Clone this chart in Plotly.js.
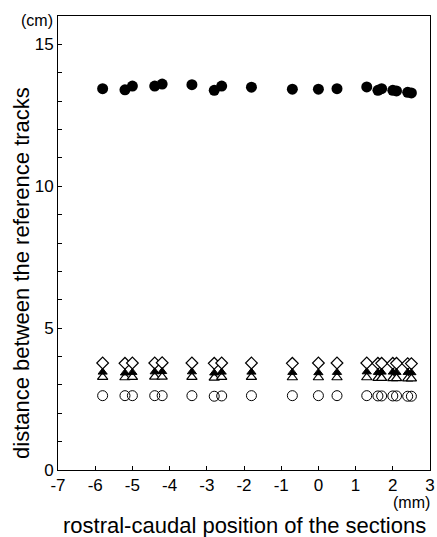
<!DOCTYPE html>
<html>
<head>
<meta charset="utf-8">
<script src="https://cdn.plot.ly/plotly-3.0.1.min.js"></script>
<style>html,body{margin:0;padding:0;background:#fff;}#chart{width:437px;height:537px;}</style>
</head>
<body>
<div id="chart"></div>
<script>
// rostral-caudal position of the sections (mm)
const positions = [-5.8, -5.2, -5.0, -4.4, -4.2, -3.4, -2.8, -2.6, -1.8, -0.7, 0.0, 0.5, 1.3, 1.6, 1.7, 2.0, 2.1, 2.4, 2.5];
// distance between the reference tracks (cm)
const filledCircles = [13.44, 13.40, 13.53, 13.53, 13.60, 13.58, 13.38, 13.53, 13.49, 13.42, 13.42, 13.44, 13.50, 13.38, 13.44, 13.38, 13.36, 13.31, 13.29];
const openDiamonds  = [3.77, 3.76, 3.77, 3.77, 3.78, 3.77, 3.76, 3.77, 3.77, 3.76, 3.77, 3.77, 3.77, 3.76, 3.76, 3.76, 3.76, 3.75, 3.75];
const filledTriangles = [3.45, 3.42, 3.44, 3.46, 3.47, 3.46, 3.42, 3.45, 3.45, 3.44, 3.43, 3.44, 3.46, 3.44, 3.45, 3.45, 3.44, 3.44, 3.43];
const openTriangles = [3.27, 3.26, 3.27, 3.28, 3.28, 3.27, 3.25, 3.27, 3.27, 3.26, 3.26, 3.26, 3.26, 3.24, 3.24, 3.23, 3.23, 3.22, 3.22];
const openCircles   = [2.62, 2.62, 2.62, 2.62, 2.62, 2.62, 2.60, 2.61, 2.62, 2.62, 2.62, 2.62, 2.62, 2.61, 2.61, 2.61, 2.61, 2.60, 2.60];

const xTicks = [-7, -6, -5, -4, -3, -2, -1, 0, 1, 2, 3];
const yTicks = [0, 5, 10, 15];

const FONT = 'Liberation Sans, Arial, Helvetica, sans-serif';

const traces = [
  {x: positions, y: openDiamonds, mode: 'markers', type: 'scatter',
   marker: {symbol: 'diamond', size: 9, color: '#fff', line: {color: '#000', width: 1.2}}},
  {x: positions, y: openTriangles, mode: 'markers', type: 'scatter',
   marker: {symbol: 'triangle-up', size: 9, color: '#fff', line: {color: '#000', width: 1.2}}},
  {x: positions, y: filledTriangles, mode: 'markers', type: 'scatter',
   marker: {symbol: 'triangle-up', size: 8, color: '#000', line: {color: '#000', width: 1}}},
  {x: positions, y: openCircles, mode: 'markers', type: 'scatter',
   marker: {symbol: 'circle-open', size: 10, color: '#000', line: {color: '#000', width: 1}}},
  {x: positions, y: filledCircles, mode: 'markers', type: 'scatter',
   marker: {symbol: 'circle', size: 11, color: '#000', line: {color: '#000', width: 0}}}
];

const layout = {
  width: 437, height: 537,
  margin: {l: 58, r: 7, t: 16, b: 67},
  paper_bgcolor: '#fff', plot_bgcolor: '#fff',
  showlegend: false,
  font: {family: FONT, size: 17, color: '#000'},
  xaxis: {
    range: [-7, 3], tickvals: xTicks, ticktext: xTicks.map(String),
    ticks: 'inside', ticklen: 4, tickwidth: 1, tickcolor: '#000',
    showline: true, linecolor: '#000', linewidth: 1, mirror: true,
    showgrid: false, zeroline: false, fixedrange: true,
    tickfont: {family: FONT, size: 17, color: '#000'}
  },
  yaxis: {
    range: [0, 16], tickvals: yTicks, ticktext: yTicks.map(String),
    ticks: 'inside', ticklen: 4, tickwidth: 1, tickcolor: '#000',
    minor: {dtick: 1, ticks: 'inside', ticklen: 4, tickwidth: 1, tickcolor: '#000', showgrid: false},
    showline: true, linecolor: '#000', linewidth: 1, mirror: true,
    showgrid: false, zeroline: false, fixedrange: true,
    tickfont: {family: FONT, size: 17, color: '#000'}
  },
  annotations: [
    {text: '(cm)', xref: 'paper', yref: 'paper', x: 0, y: 1, xanchor: 'right', yanchor: 'middle',
     xshift: -3, yshift: -4, showarrow: false, font: {family: FONT, size: 16, color: '#000'}},
    {text: '(mm)', xref: 'paper', yref: 'paper', x: 1, y: 0, xanchor: 'right', yanchor: 'top',
     xshift: 2, yshift: -22, showarrow: false, font: {family: FONT, size: 16, color: '#000'}},
    {text: 'rostral-caudal position of the sections', xref: 'paper', yref: 'paper', x: 0.5, y: 0,
     xanchor: 'center', yanchor: 'top', yshift: -41, showarrow: false,
     font: {family: FONT, size: 22, color: '#000'}},
    {text: 'distance between the reference tracks', xref: 'paper', yref: 'paper', x: 0, y: 0.434,
     xanchor: 'center', yanchor: 'middle', xshift: -36, textangle: -90, showarrow: false,
     font: {family: FONT, size: 22, color: '#000'}}
  ]
};

Plotly.newPlot('chart', traces, layout, {displayModeBar: false, staticPlot: true});
</script>
</body>
</html>
